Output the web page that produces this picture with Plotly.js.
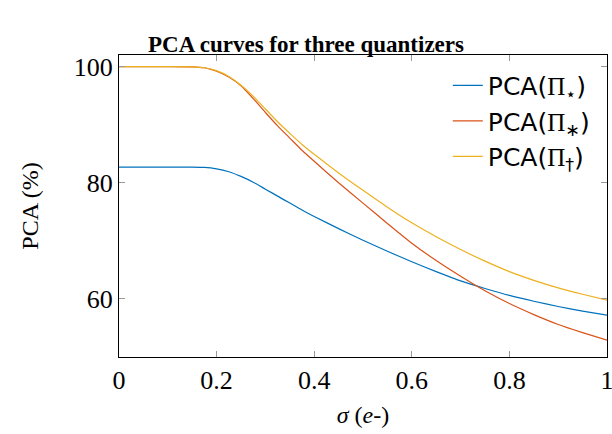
<!DOCTYPE html>
<html>
<head>
<meta charset="utf-8">
<script src="https://cdn.plot.ly/plotly-3.0.1.min.js"></script>
<style>html,body{margin:0;padding:0;background:#fff;}</style>
</head>
<body>
<div id="chart" style="width:612px;height:434px;"></div>
<script>
// sigma (e-)
const sigma = [0, 0.05, 0.1, 0.15, 0.175, 0.2, 0.225, 0.25, 0.275, 0.3, 0.325, 0.35, 0.375, 0.4, 0.45, 0.5, 0.55, 0.6, 0.65, 0.7, 0.75, 0.8, 0.85, 0.9, 0.95, 1.0];
// PCA(Pi_star) %
const pcaStar = [82.7, 82.7, 82.7, 82.7, 82.65, 82.4, 81.9, 81.1, 80.1, 78.9, 77.7, 76.5, 75.3, 74.2, 72.1, 70.1, 68.2, 66.4, 64.7, 63.1, 61.8, 60.6, 59.6, 58.7, 57.9, 57.2];
// PCA(Pi_ast) %
const pcaAst = [100, 100, 100, 99.97, 99.8, 99.2, 98.2, 96.7, 94.5, 92.1, 89.8, 87.7, 85.6, 83.7, 80.0, 76.5, 73.0, 69.6, 66.6, 63.9, 61.4, 59.2, 57.3, 55.6, 54.2, 52.9];
// PCA(Pi_dagger) %
const pcaDagger = [100, 100, 100, 99.97, 99.8, 99.3, 98.3, 96.8, 94.9, 92.7, 90.5, 88.5, 86.6, 84.9, 81.7, 78.7, 75.8, 73.1, 70.7, 68.5, 66.5, 64.7, 63.2, 61.9, 60.8, 59.8];

const seriesNames = [
  'PCA(<span style="font-family:Liberation Serif">Π</span><sub>⋆</sub>)',
  'PCA(<span style="font-family:Liberation Serif">Π</span><sub>∗</sub>)',
  'PCA(<span style="font-family:Liberation Serif">Π</span><sub>†</sub>)'
];
const xTicks = [0, 0.2, 0.4, 0.6, 0.8, 1];
const xTickText = ["0", "0.2", "0.4", "0.6", "0.8", "1"];
const yTicks = [60, 80, 100];
const yTickText = ["60", "80", "100"];

const colors = ["#0072BD", "#D95319", "#EDB120"];
const series = [pcaStar, pcaAst, pcaDagger];

const traces = series.map((ys, i) => ({
  x: sigma, y: ys, type: "scatter", mode: "lines",
  name: seriesNames[i],
  line: {color: colors[i], width: 1.2, shape: "spline", smoothing: 0.5}
}));

const serif = "Liberation Serif, DejaVu Serif, serif";
const layout = {
  width: 612, height: 434,
  margin: {l: 119, r: 5, t: 55, b: 77},
  paper_bgcolor: "#fff", plot_bgcolor: "#fff",
  showlegend: true,
  title: {text: "<b>PCA curves for three quantizers</b>", font: {family: serif, size: 23, color: "#000"},
          x: 0.5, xanchor: "center", y: 0.898, yanchor: "middle", yref: "container"},
  xaxis: {
    range: [0, 1], tickvals: xTicks, ticktext: xTickText,
    ticks: "inside", ticklen: 6, tickcolor: "#999", tickwidth: 1,
    showline: true, linecolor: "#000", linewidth: 1, mirror: "ticks",
    showgrid: false, zeroline: false, ticklabeloverflow: "allow",
    tickfont: {family: serif, size: 26, color: "#000"},
    title: {text: "<i>σ</i> (<i>e</i>-)", font: {family: serif, size: 24, color: "#000"}, standoff: 11}
  },
  yaxis: {
    range: [50, 102], tickvals: yTicks, ticktext: yTickText,
    ticks: "inside", ticklen: 6, tickcolor: "#999", tickwidth: 1,
    showline: true, linecolor: "#000", linewidth: 1, mirror: "ticks",
    showgrid: false, zeroline: false,
    tickfont: {family: serif, size: 26, color: "#000"},
    title: {text: "PCA (%)", font: {family: serif, size: 24, color: "#000"}, standoff: 28}
  },
  legend: {
    x: 0.975, xanchor: "right", y: 0.975, yanchor: "top",
    bgcolor: "rgba(255,255,255,0)", borderwidth: 0,
    font: {family: "DejaVu Sans, sans-serif", size: 25, color: "#000"},
    tracegroupgap: 0
  }
};

Plotly.newPlot("chart", traces, layout, {displayModeBar: false, staticPlot: true});
</script>
</body>
</html>
